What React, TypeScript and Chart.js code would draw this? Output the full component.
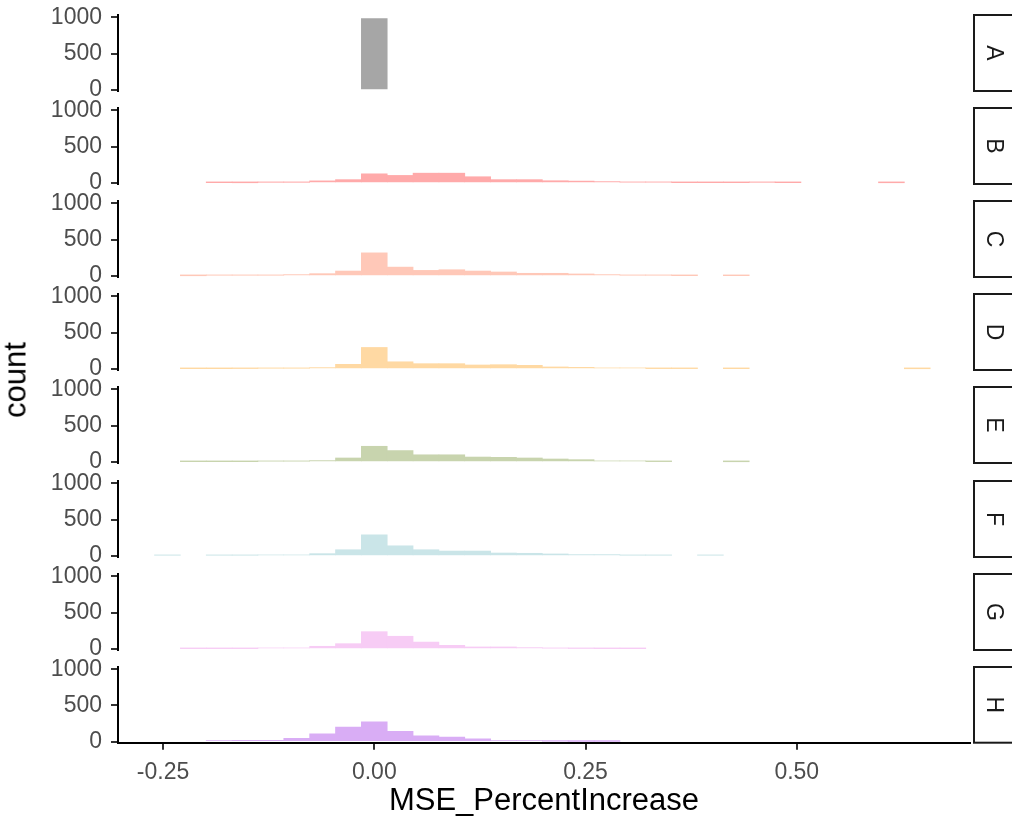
import React, { useEffect, useRef } from 'react';
import { Chart, registerables } from 'chart.js';

Chart.register(...registerables);

// ---------- data ----------
const binCenters = [
  -0.2448, -0.2142, -0.1836, -0.153, -0.1224, -0.0918, -0.0612, -0.0306,
  0, 0.0306, 0.0612, 0.0918, 0.1224, 0.153, 0.1836, 0.2142, 0.2448, 0.2754,
  0.306, 0.3366, 0.3672, 0.3978, 0.4284, 0.459, 0.4896, 0.5202, 0.5508,
  0.5814, 0.612, 0.6426,
];

const panelLabels = ['A', 'B', 'C', 'D', 'E', 'F', 'G', 'H'];

const countsA = [0, 0, 0, 0, 0, 0, 0, 0, 980, 0, 0, 0, 0, 0, 0, 0, 0, 0, 0, 0, 0, 0, 0, 0, 0, 0, 0, 0, 0, 0];
const countsB = [0, 0, 3, 2, 8, 8, 28, 45, 125, 103, 134, 134, 85, 45, 45, 30, 25, 18, 10, 10, 3, 3, 3, 8, 3, 0, 0, 0, 2, 0];
const countsC = [0, 2, 9, 9, 9, 18, 31, 67, 317, 121, 76, 85, 67, 54, 36, 36, 27, 18, 9, 9, 3, 0, 3, 0, 0, 0, 0, 0, 0, 0];
const countsD = [0, 3, 3, 5, 9, 9, 18, 63, 295, 98, 72, 72, 54, 58, 49, 27, 22, 13, 13, 4, 4, 0, 3, 0, 0, 0, 0, 0, 0, 2];
const countsE = [0, 3, 3, 3, 10, 10, 18, 54, 215, 156, 98, 98, 67, 63, 54, 40, 31, 13, 13, 4, 0, 0, 2, 0, 0, 0, 0, 0, 0, 0];
const countsF = [9, 0, 9, 9, 13, 13, 31, 85, 290, 139, 85, 67, 67, 40, 36, 27, 18, 18, 9, 9, 0, 9, 0, 0, 0, 0, 0, 0, 0, 0];
const countsG = [0, 4, 4, 4, 13, 13, 36, 72, 237, 174, 94, 49, 27, 27, 18, 10, 6, 4, 3, 0, 0, 0, 0, 0, 0, 0, 0, 0, 0, 0];
const countsH = [0, 0, 13, 18, 18, 45, 107, 201, 273, 143, 80, 63, 40, 13, 13, 5, 3, 2, 0, 0, 0, 0, 0, 0, 0, 0, 0, 0, 0, 0];

const panelColors = ['#A6A6A6', '#FFAAAA', '#FFC8B8', '#FFD9A3', '#C8D4AE', '#CAE5E8', '#F7CCF5', '#D9ADF5'];

const yTicks = [0, 500, 1000];
const yTickLabels = ['0', '500', '1000'];
const xTicks = [-0.25, 0, 0.25, 0.5];
const xTickLabels = ['-0.25', '0.00', '0.25', '0.50'];
const xTitle = 'MSE_PercentIncrease';
const yTitle = 'count';

const allCounts = [countsA, countsB, countsC, countsD, countsE, countsF, countsG, countsH];

// ---------- layout ----------
const W = 1012;
const H = 820;
const FIRST_TOP = 15;
const STEP = 93.1;
const PANEL_H = 76;
const PAD = 26;
const LEFT = 118;
const RIGHT_PAD = 42;
const X_MIN = -0.3033;
const X_MAX = 0.705;
const Y_MIN = -15;
const Y_MAX = 1030;
const TICK_FONT = 23;
const TITLE_FONT = 31;
const FONT = "'Liberation Sans', Arial, Helvetica, sans-serif";

Chart.defaults.font.family = FONT;

const labelFor = (vals: number[], labels: string[], v: any) => {
  const i = vals.findIndex((t) => Math.abs(t - Number(v)) < 1e-9);
  return i >= 0 ? labels[i] : '';
};

const stripPlugin = {
  id: 'strip',
  afterDraw(chart: any, _args: any, opts: any) {
    const { ctx, chartArea } = chart;
    const x0 = chartArea.right + 4;
    const top = chartArea.top;
    const h = chartArea.bottom - chartArea.top;
    ctx.save();
    ctx.fillStyle = '#FFFFFF';
    ctx.fillRect(x0, top, W + 10 - x0, h);
    ctx.strokeStyle = '#1A1A1A';
    ctx.lineWidth = 2;
    ctx.strokeRect(x0, top, W + 10 - x0, h);
    ctx.translate(x0 + 20, top + h / 2);
    ctx.rotate(Math.PI / 2);
    ctx.fillStyle = '#1A1A1A';
    ctx.font = `${TICK_FONT}px ${FONT}`;
    ctx.textAlign = 'center';
    ctx.textBaseline = 'middle';
    ctx.fillText(opts.label, 0, 1);
    ctx.restore();
  },
};

function Panel({ index }: { index: number }) {
  const ref = useRef<HTMLCanvasElement | null>(null);
  const isLast = index === panelLabels.length - 1;
  const panelTop = FIRST_TOP + STEP * index;
  const canvasTop = panelTop - PAD;
  const canvasH = isLast ? H - canvasTop : PANEL_H + 2 * PAD;
  const xAxisH = canvasH - PAD - PANEL_H;

  useEffect(() => {
    if (!ref.current) return;
    const counts = allCounts[index];
    const chart = new Chart(ref.current, {
      type: 'bar',
      data: {
        datasets: [
          {
            data: binCenters.map((x, i) => ({ x, y: counts[i] > 0 ? counts[i] : null })),
            backgroundColor: panelColors[index],
            borderWidth: 0,
            barPercentage: 1,
            categoryPercentage: 1,
            grouped: false,
          } as any,
        ],
      },
      options: {
        animation: false,
        responsive: false,
        maintainAspectRatio: false,
        layout: { padding: { left: 0, right: RIGHT_PAD, top: PAD, bottom: isLast ? 0 : PAD } },
        plugins: {
          legend: { display: false },
          tooltip: { enabled: false },
          strip: { label: panelLabels[index] },
        } as any,
        scales: {
          x: {
            type: 'linear',
            min: X_MIN,
            max: X_MAX,
            offset: false,
            display: isLast,
            grid: {
              display: true,
              drawOnChartArea: false,
              drawTicks: true,
              tickLength: 7,
              color: '#333333',
              lineWidth: 2,
              offset: false,
            },
            border: { display: true, color: '#000000', width: 2 },
            ticks: {
              color: '#4D4D4D',
              font: { size: TICK_FONT },
              padding: 9,
              maxRotation: 0,
              autoSkip: false,
              callback: (v: any) => labelFor(xTicks, xTickLabels, v),
            },
            title: {
              display: isLast,
              text: xTitle,
              color: '#000000',
              font: { size: TITLE_FONT },
              padding: { top: 0, bottom: 0 },
            },
            afterBuildTicks: (s: any) => {
              s.ticks = xTicks.map((v) => ({ value: v }));
            },
            afterFit: (s: any) => {
              if (isLast) s.height = xAxisH;
            },
          } as any,
          y: {
            type: 'linear',
            min: Y_MIN,
            max: Y_MAX,
            grid: {
              display: true,
              drawOnChartArea: false,
              drawTicks: true,
              tickLength: 7,
              color: '#333333',
              lineWidth: 2,
            },
            border: { display: true, color: '#000000', width: 2 },
            ticks: {
              color: '#4D4D4D',
              font: { size: TICK_FONT },
              padding: 9,
              callback: (v: any) => labelFor(yTicks, yTickLabels, v),
            },
            afterBuildTicks: (s: any) => {
              s.ticks = yTicks.map((v) => ({ value: v }));
            },
            afterFit: (s: any) => {
              s.width = LEFT;
            },
          } as any,
        },
      },
      plugins: [stripPlugin],
    });
    return () => chart.destroy();
  }, [index]);

  return (
    <canvas
      ref={ref}
      width={W}
      height={canvasH}
      style={{ position: 'absolute', left: 0, top: canvasTop, width: W, height: canvasH }}
    />
  );
}

export default function App() {
  return (
    <div
      style={{
        position: 'fixed',
        left: 0,
        top: 0,
        width: W,
        height: H,
        overflow: 'hidden',
        background: '#FFFFFF',
        fontFamily: FONT,
      }}
    >
      {panelLabels.map((_, i) => (
        <Panel key={i} index={i} />
      ))}
      <div
        style={{
          position: 'absolute',
          left: 15,
          top: 380,
          transform: 'translate(-50%, -50%) rotate(-90deg)',
          fontSize: TITLE_FONT,
          color: '#000000',
          whiteSpace: 'nowrap',
          lineHeight: 1,
        }}
      >
        {yTitle}
      </div>
    </div>
  );
}
